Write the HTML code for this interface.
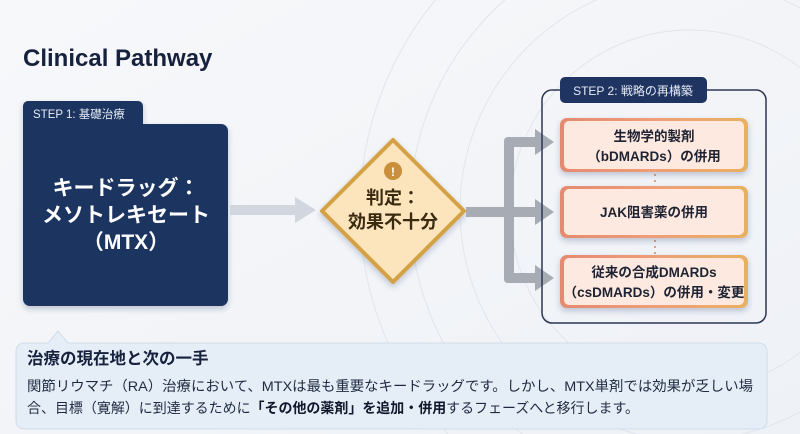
<!DOCTYPE html>
<html><head><meta charset="utf-8"><style>
html,body{margin:0;padding:0;width:800px;height:434px;overflow:hidden;background:#f4f6f9}
svg{display:block}
svg text{font-family:"Liberation Sans","Noto Sans CJK JP",sans-serif}
</style></head><body>
<svg width="800" height="434" viewBox="0 0 800 434" xmlns="http://www.w3.org/2000/svg">
<defs>
<linearGradient id="bg" x1="0" y1="0" x2="1" y2="1"><stop offset="0" stop-color="#f7f8fa"/><stop offset="1" stop-color="#eef1f6"/></linearGradient>
<linearGradient id="card" x1="0" y1="0" x2="1" y2="0"><stop offset="0" stop-color="#e58a6f"/><stop offset="0.5" stop-color="#ee9e78"/><stop offset="1" stop-color="#e8b160"/></linearGradient>
<filter id="sh" x="-20%" y="-20%" width="140%" height="140%"><feDropShadow dx="0" dy="3" stdDeviation="3" flood-color="#1e3461" flood-opacity="0.25"/></filter>
</defs>
<rect width="800" height="434" fill="url(#bg)"/>
<g fill="none" stroke="#e1e5ec" stroke-width="1">
<circle cx="690" cy="210" r="180"/><circle cx="690" cy="210" r="230"/><circle cx="690" cy="210" r="280"/><circle cx="690" cy="210" r="330"/>
</g>
<text x="23" y="66" font-size="24" font-weight="bold" fill="#16213d">Clinical Pathway</text>
<g filter="url(#sh)">
<rect x="23" y="101" width="120" height="40" rx="5" fill="#1f3461"/>
<rect x="23" y="124" width="205" height="182" rx="7" fill="#1f3461"/>
</g>
<text x="33" y="118" font-size="11.5" fill="#e6ebf5">STEP 1: 基礎治療</text>
<g font-size="21" font-weight="bold" fill="#fff" text-anchor="middle">
<text x="126" y="195">キードラッグ：</text>
<text x="126" y="222">メソトレキセート</text>
<text x="126" y="249">（MTX）</text>
</g>
<rect x="230" y="205" width="68" height="10" fill="#d2d6de"/>
<polygon points="295,197 316,210 295,223" fill="#d2d6de"/>
<polygon points="393,140 464,211 393,282 322,211" fill="#fce5bd" stroke="#d5a144" stroke-width="4" stroke-linejoin="round" filter="url(#sh)"/>
<circle cx="393" cy="171" r="9" fill="#c98f3b"/>
<text x="393" y="176" font-size="12" font-weight="bold" fill="#fff" text-anchor="middle">!</text>
<text x="393" y="204" font-size="18" font-weight="bold" fill="#3a2a10" text-anchor="middle">判定：</text>
<text x="393" y="228" font-size="18" font-weight="bold" fill="#3a2a10" text-anchor="middle">効果不十分</text>
<g fill="#a6abb4">
<rect x="466" y="207" width="80" height="10"/>
<rect x="504" y="138" width="10" height="145" rx="4"/>
<rect x="504" y="137" width="42" height="10" rx="4"/>
<rect x="504" y="273" width="42" height="10" rx="4"/>
<polygon points="535,129 554,142 535,155"/>
<polygon points="535,199 554,212 535,225"/>
<polygon points="535,265 554,278 535,291"/>
</g>
<rect x="542" y="90" width="224" height="233" rx="10" fill="none" stroke="#2a3654" stroke-width="1.5"/>
<rect x="560" y="77" width="147" height="26" rx="5" fill="#1f3461"/>
<text x="633" y="95" font-size="12" fill="#e6ebf5" text-anchor="middle">STEP 2: 戦略の再構築</text>
<g stroke="#d9a583" stroke-width="2" stroke-dasharray="2,4"><line x1="655" y1="174" x2="655" y2="186"/><line x1="655" y1="240" x2="655" y2="254"/></g>
<g filter="url(#sh)">
<rect x="560" y="118" width="188" height="54" rx="7" fill="url(#card)"/>
<rect x="560" y="186" width="188" height="52" rx="7" fill="url(#card)"/>
<rect x="560" y="255" width="188" height="53" rx="7" fill="url(#card)"/>
</g>
<g fill="#fde9df">
<rect x="564" y="121" width="180" height="48" rx="5"/>
<rect x="564" y="189" width="180" height="46" rx="5"/>
<rect x="564" y="258" width="180" height="47" rx="5"/>
</g>
<g font-size="13.5" font-weight="bold" fill="#1e2333" text-anchor="middle">
<text x="654" y="141">生物学的製剤</text>
<text x="654" y="161">（bDMARDs）の併用</text>
<text x="654" y="217">JAK阻害薬の併用</text>
<text x="654" y="277">従来の合成DMARDs</text>
<text x="654" y="297">（csDMARDs）の併用・変更</text>
</g>
<path d="M24,343 H48 L58,331 L68,343 H759 a8,8 0 0 1 8,8 V421 a8,8 0 0 1 -8,8 H24 a8,8 0 0 1 -8,-8 V351 a8,8 0 0 1 8,-8 Z" fill="#e5eef7" stroke="#cfdcea" stroke-width="1"/>
<text x="27" y="364" font-size="16.5" font-weight="bold" fill="#16213d">治療の現在地と次の一手</text>
<text x="27" y="391" font-size="14" fill="#1e2a40" textLength="726" lengthAdjust="spacingAndGlyphs">関節リウマチ（RA）治療において、MTXは最も重要なキードラッグです。しかし、MTX単剤では効果が乏しい場</text>
<text x="27" y="413" font-size="14" fill="#1e2a40" textLength="612" lengthAdjust="spacingAndGlyphs">合、目標（寛解）に到達するために<tspan font-weight="bold" fill="#10182c">「その他の薬剤」を追加・併用</tspan>するフェーズへと移行します。</text>
</svg>
</body></html>
